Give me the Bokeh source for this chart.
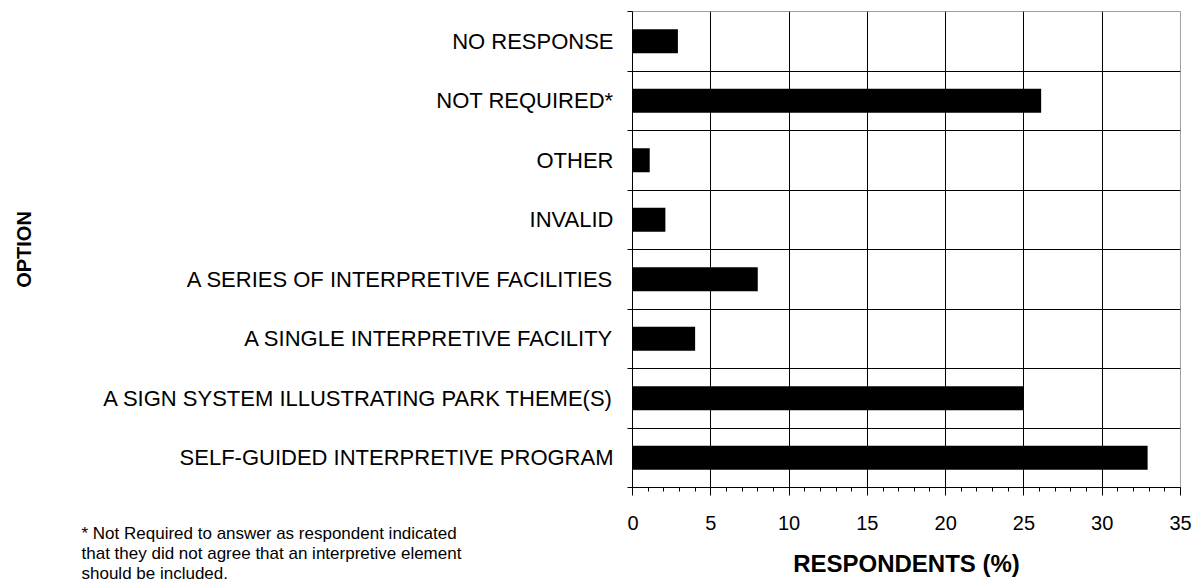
import math
from bokeh.plotting import figure
from bokeh.models import ColumnDataSource, Range1d, FixedTicker, Label
from bokeh.layouts import row
from bokeh.core.properties import value
from bokeh.embed import file_html
from bokeh.resources import INLINE

categories = [
    "NO RESPONSE",
    "NOT REQUIRED*",
    "OTHER",
    "INVALID",
    "A SERIES OF INTERPRETIVE FACILITIES",
    "A SINGLE INTERPRETIVE FACILITY",
    "A SIGN SYSTEM ILLUSTRATING PARK THEME(S)",
    "SELF-GUIDED INTERPRETIVE PROGRAM",
]
values = [2.9, 26.1, 1.1, 2.1, 8.0, 4.0, 25.0, 32.9]
x_ticks = [0, 5, 10, 15, 20, 25, 30, 35]
footnote = [
    "* Not Required to answer as respondent indicated",
    "that they did not agree that an interpretive element",
    "should be included.",
]
x_title = "RESPONDENTS (%)"
y_title = "OPTION"

FONT = "Liberation Sans"
W, H = 1197, 588
FL, FR, FT, FB = 632, 1180, 11, 487   # chart frame edges in page pixels
TICK = 5                               # outward category-boundary ticks
LW = FL - TICK                         # width of the label panel (left figure)
XMAX = 35
n = len(categories)
ypos = [n - 1 - i + 0.5 for i in range(n)]
px_y = (FB - FT) / n                   # pixels per category

# ---------------- chart (right figure) ----------------
src = ColumnDataSource(dict(y=ypos, v=values, cat=categories))
p = figure(width=W - LW, height=H, output_backend="svg", toolbar_location=None,
           x_range=Range1d(0, XMAX), y_range=Range1d(0, n),
           min_border_left=TICK, min_border_right=W - FR, min_border_top=FT,
           min_border_bottom=H - FB)
p.hbar(y="y", left=0, right="v", height=0.4, source=src,
       fill_color="black", line_color=None)
p.outline_line_color = "#a0a0a0"
p.outline_line_width = 1
p.background_fill_color = "white"
p.border_fill_color = "white"

xa = p.xaxis[0]
xa.ticker = FixedTicker(ticks=x_ticks, minor_ticks=list(range(0, XMAX + 1)))
xa.axis_line_color = "black"
xa.major_tick_line_color = "black"
xa.minor_tick_line_color = "black"
xa.major_tick_out = 8
xa.major_tick_in = 0
xa.minor_tick_out = 4
xa.minor_tick_in = 0
xa.major_label_text_font = FONT
xa.major_label_text_font_size = "20px"
xa.major_label_text_color = "black"
xa.major_label_standoff = 20
xa.axis_label = x_title
xa.axis_label_text_font = FONT
xa.axis_label_text_font_size = "24px"
xa.axis_label_text_font_style = "bold"
xa.axis_label_text_color = "black"
xa.axis_label_standoff = 17

ya = p.yaxis[0]
ya.ticker = FixedTicker(ticks=[], minor_ticks=list(range(0, n + 1)))
ya.axis_line_color = "black"
ya.major_tick_out = 0
ya.major_tick_in = 0
ya.minor_tick_line_color = "black"
ya.minor_tick_out = TICK
ya.minor_tick_in = 0
ya.major_label_standoff = 0

p.xgrid.ticker = FixedTicker(ticks=x_ticks[1:-1])
p.xgrid.grid_line_color = "black"
p.xgrid.grid_line_width = 1
p.ygrid.ticker = FixedTicker(ticks=list(range(1, n)))
p.ygrid.grid_line_color = "black"
p.ygrid.grid_line_width = 1

# ---------------- labels (left figure; its frame is aligned with the chart's) ----------------
lab = figure(width=LW, height=H, output_backend="svg", toolbar_location=None,
             x_range=Range1d(0, LW), y_range=Range1d(0, n),
             x_axis_type=None, y_axis_type=None,
             min_border_left=0, min_border_right=0,
             min_border_top=FT, min_border_bottom=H - FB)
lab.grid.visible = False
lab.outline_line_color = None
lab.background_fill_color = "white"
lab.border_fill_color = "white"

cat_src = ColumnDataSource(dict(x=[613] * n, y=ypos, t=categories))
lab.text(x="x", y="y", text="t", source=cat_src,
         text_font=value(FONT), text_font_size="22px",
         text_align="right", text_baseline="middle", text_color="black")

lab.text(x=[23.5], y=[n / 2], text=[y_title], angle=math.pi / 2,
         text_font=value(FONT), text_font_size="20px", text_font_style="bold",
         text_align="center", text_baseline="middle", text_color="black")

# footnote below the frame: labels in the bottom panel are not clipped
for i, line in enumerate(footnote):
    page_y = 533 + 20 * i
    lab.add_layout(Label(x=81, y=(FB - page_y) / px_y, text=line,
                         text_font=FONT, text_font_size="17px",
                         text_align="left", text_baseline="middle",
                         text_color="black"), "below")

layout = row(lab, p, spacing=0)
open("out.html", "w").write(file_html(layout, INLINE))
